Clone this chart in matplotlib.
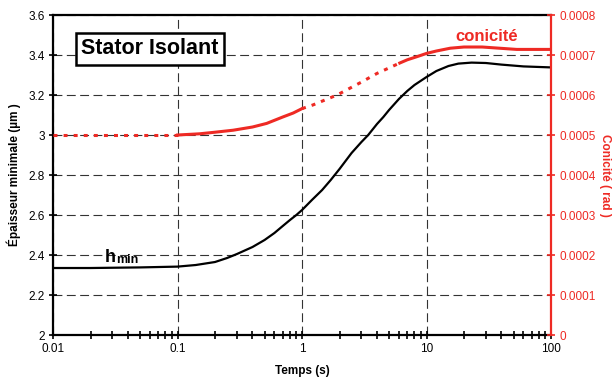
import matplotlib
matplotlib.use("Agg")
import matplotlib.pyplot as plt
from matplotlib.ticker import FixedLocator, FuncFormatter, LogLocator, NullFormatter

plt.rcParams['font.family'] = ['Liberation Sans', 'DejaVu Sans']

RED = '#ee2a24'

# minimum film thickness (um) vs time (s)
t_h = [0.01, 0.02, 0.05, 0.1, 0.14, 0.2, 0.25, 0.3, 0.4, 0.5, 0.6, 0.7, 0.8,
       0.9, 1.0, 1.2, 1.45, 1.7, 2.0, 2.5, 3.0, 3.4, 4.0, 4.5, 5.0, 6.0, 7.0,
       8.0, 10, 12, 15, 18, 23, 30, 40, 60, 100]
h_min = [2.335, 2.335, 2.338, 2.342, 2.350, 2.365, 2.385, 2.405, 2.44, 2.475,
         2.51, 2.545, 2.575, 2.60, 2.625, 2.675, 2.725, 2.775, 2.83, 2.91,
         2.965, 3.00, 3.055, 3.09, 3.125, 3.18, 3.22, 3.25, 3.29, 3.32, 3.345,
         3.357, 3.362, 3.36, 3.352, 3.343, 3.338]

# conicity (rad), split in segments drawn solid / dotted
t_c1 = [0.01, 0.1]
c1 = [0.0005, 0.0005]
t_c2 = [0.1, 0.15, 0.2, 0.28, 0.4, 0.52, 0.7, 0.85, 1.0]
c2 = [0.0005, 0.000503, 0.000507, 0.000512, 0.00052, 0.000529, 0.000545,
      0.000555, 0.000566]
t_c3 = [1.0, 1.22, 1.91, 3.03, 4.0, 6.1]
c3 = [0.000566, 0.000575, 0.0006, 0.000633, 0.000654, 0.00068]
t_c4 = [6.1, 7.0, 8.4, 10, 12, 15.5, 20, 28, 53, 100]
c4 = [0.00068, 0.000688, 0.000696, 0.000704, 0.00071, 0.000717, 0.00072,
      0.00072, 0.000714, 0.000714]

fig = plt.figure(figsize=(6.13, 3.82), dpi=100)
ax = fig.add_axes([0.0865, 0.123, 0.8124, 0.8377])
ax2 = ax.twinx()

ax.set_xscale('log')
ax.set_xlim(0.01, 100)
ax.set_ylim(2, 3.6)
ax.set_yticks([2, 2.2, 2.4, 2.6, 2.8, 3, 3.2, 3.4, 3.6])
ax.yaxis.set_major_formatter(FuncFormatter(lambda v, p: '%g' % v))
ax.xaxis.set_major_locator(FixedLocator([0.01, 0.1, 1, 10, 100]))
ax.xaxis.set_major_formatter(FuncFormatter(lambda v, p: '%g' % v))
ax.xaxis.set_minor_locator(LogLocator(base=10, subs=range(2, 10)))
ax.xaxis.set_minor_formatter(NullFormatter())

ax.grid(True, which='major', color='#333333', linestyle=(0, (8, 4)), linewidth=0.8)
ax.set_axisbelow(True)

ax.plot(t_h, h_min, color='black', linewidth=1.6, zorder=3)

ax.tick_params(axis='both', which='major', direction='inout', length=6, width=1.2,
               labelsize=8.5, colors='black', pad=3)
ax.tick_params(axis='x', which='minor', direction='inout', length=6, width=1.2)

for s in ['left', 'bottom', 'top']:
    ax.spines[s].set_linewidth(1.6)
ax.spines['right'].set_visible(False)

ax.set_xlabel('Temps (s)', fontsize=8.5, fontweight='bold', labelpad=7)
ax.set_ylabel('Épaisseur minimale (µm )', fontsize=8.5, fontweight='bold', labelpad=5)

# conicity on the right axis
ax2.set_ylim(0, 0.0008)
ax2.set_yticks([i * 0.0001 for i in range(9)])
ax2.yaxis.set_major_formatter(FuncFormatter(lambda v, p: '0' if abs(v) < 1e-12 else '%.4f' % v))
ax2.tick_params(axis='y', direction='inout', length=6, width=1.2, colors=RED,
                labelsize=8.5, pad=3)
ax2.spines['right'].set_color(RED)
ax2.spines['right'].set_linewidth(1.6)
for s in ['left', 'bottom', 'top']:
    ax2.spines[s].set_visible(False)

dots = (0, (1.3, 2.0))
ax2.plot(t_c1, c1, color=RED, linewidth=2.2, linestyle=dots)
ax2.plot(t_c2, c2, color=RED, linewidth=2.2)
ax2.plot(t_c3, c3, color=RED, linewidth=2.2, linestyle=dots)
ax2.plot(t_c4, c4, color=RED, linewidth=2.2)

ax2.set_ylabel('Conicité ( rad )', fontsize=8.5, fontweight='bold', color=RED,
               rotation=270, labelpad=11)

# annotations
ax2.text(30.6, 0.000735, 'conicité', color=RED, fontsize=12, fontweight='bold',
         ha='center', va='baseline')
ax.text(0.0262, 2.365, 'h', fontsize=13, fontweight='bold', ha='left', va='baseline')
ax.text(0.0322, 2.362, 'min', fontsize=9, fontweight='bold', ha='left', va='baseline')
ax.text(0.195, 0.894, 'Stator Isolant', transform=ax.transAxes, fontsize=15.5,
        fontweight='bold', ha='center', va='center', zorder=5,
        bbox=dict(boxstyle='square,pad=0.25', facecolor='white', edgecolor='black',
                  linewidth=1.8))

fig.savefig('out.png', dpi=100)
